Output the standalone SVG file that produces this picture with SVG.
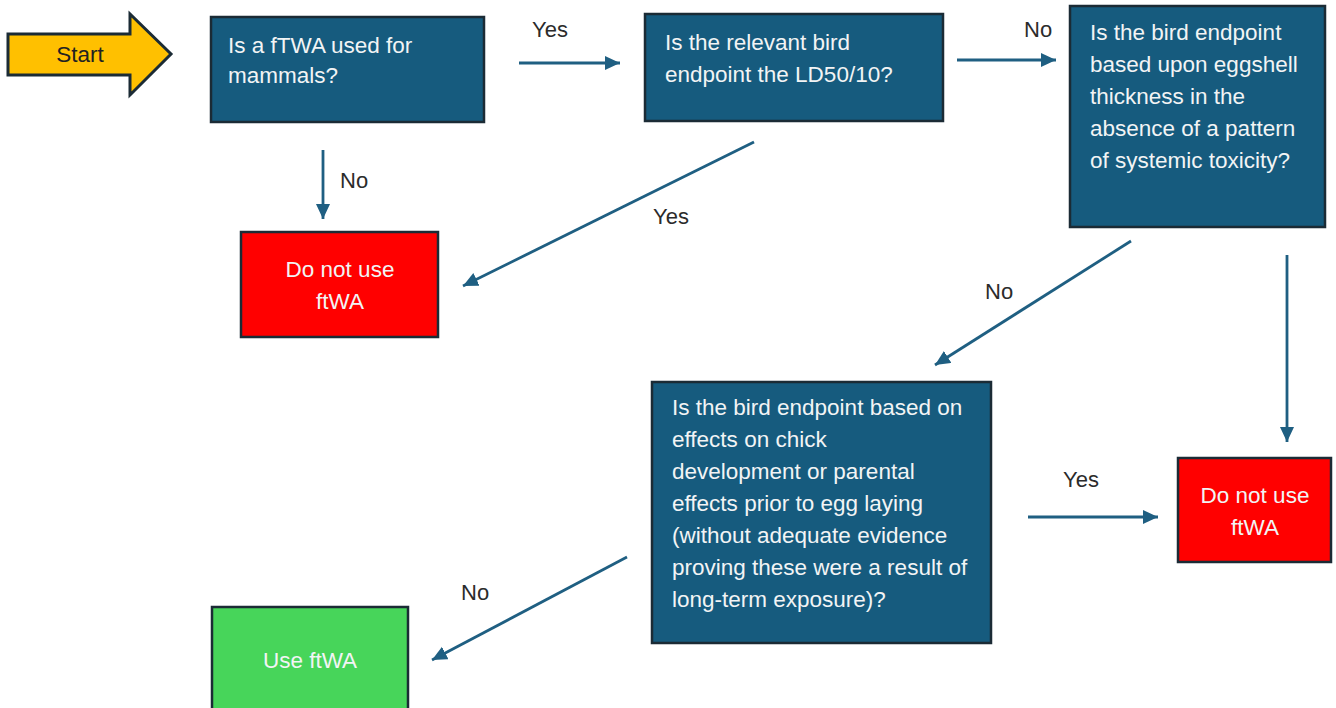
<svg xmlns="http://www.w3.org/2000/svg" width="1336" height="708" viewBox="0 0 1336 708">
<defs>
<style>
.q{fill:#165b7e;stroke:#1b2b35;stroke-width:2.5}
.red{fill:#ff0000;stroke:#1b2b35;stroke-width:2.5}
.grn{fill:#47d55a;stroke:#1b2b35;stroke-width:2.5}
.t{font-family:"Liberation Sans",Arial,sans-serif;font-size:22.5px;fill:#f2f4f5}
.c{text-anchor:middle}
.lbl{font-family:"Liberation Sans",Arial,sans-serif;font-size:22px;fill:#2b2b2b}
.cn{stroke:#1f5f82;stroke-width:2.8;fill:none;marker-end:url(#ah)}
</style>
<marker id="ah" markerUnits="userSpaceOnUse" markerWidth="18" markerHeight="16" refX="15" refY="7" orient="auto">
<path d="M0,0 L15,7 L0,14 Z" fill="#1f5f82"/>
</marker>
</defs>
<rect width="1336" height="708" fill="#ffffff"/>

<g id="start">
<polygon points="8,34 130,34 130,14 171,54 130,95 130,75 8,75" fill="#ffc000" stroke="#1b2b35" stroke-width="3"/>
<text x="80" y="62" class="lbl c" style="font-size:22.5px;fill:#222">Start</text>
</g>

<g id="q1">
<rect x="211" y="17" width="273" height="105" class="q"/>
<text class="t"><tspan x="228" y="53">Is a fTWA used for</tspan><tspan x="228" y="83">mammals?</tspan></text>
</g>

<g id="q2">
<rect x="645" y="14" width="298" height="107" class="q"/>
<text class="t"><tspan x="665" y="50">Is the relevant bird</tspan><tspan x="665" y="82">endpoint the LD50/10?</tspan></text>
</g>

<g id="q3">
<rect x="1070" y="6" width="255" height="221" class="q"/>
<text class="t"><tspan x="1090" y="40">Is the bird endpoint</tspan><tspan x="1090" y="72">based upon eggshell</tspan><tspan x="1090" y="104">thickness in the</tspan><tspan x="1090" y="136">absence of a pattern</tspan><tspan x="1090" y="168">of systemic toxicity?</tspan></text>
</g>

<g id="stop1">
<rect x="241" y="232" width="197" height="105" class="red"/>
<text class="t c"><tspan x="340" y="277">Do not use</tspan><tspan x="340" y="309">ftWA</tspan></text>
</g>

<g id="q4">
<rect x="652" y="382" width="339" height="261" class="q"/>
<text class="t"><tspan x="672" y="415">Is the bird endpoint based on</tspan><tspan x="672" y="447">effects on chick</tspan><tspan x="672" y="479">development or parental</tspan><tspan x="672" y="511">effects prior to egg laying</tspan><tspan x="672" y="543">(without adequate evidence</tspan><tspan x="672" y="575">proving these were a result of</tspan><tspan x="672" y="607">long-term exposure)?</tspan></text>
</g>

<g id="stop2">
<rect x="1178" y="458" width="153" height="104" class="red"/>
<text class="t c"><tspan x="1255" y="503">Do not use</tspan><tspan x="1255" y="535">ftWA</tspan></text>
</g>

<g id="use">
<rect x="212" y="607" width="196" height="110" class="grn"/>
<text x="310" y="668" class="t c">Use ftWA</text>
</g>

<g id="connectors">
<line x1="519" y1="63" x2="620" y2="63" class="cn"/>
<line x1="957" y1="60" x2="1056" y2="60" class="cn"/>
<line x1="323" y1="150" x2="323" y2="219" class="cn"/>
<line x1="754" y1="142" x2="463" y2="286" class="cn"/>
<line x1="1131" y1="241" x2="935" y2="365" class="cn"/>
<line x1="1287" y1="255" x2="1287" y2="442" class="cn"/>
<line x1="1028" y1="517" x2="1158" y2="517" class="cn"/>
<line x1="627" y1="557" x2="432" y2="660" class="cn"/>
</g>

<g id="labels">
<text x="532" y="37" class="lbl">Yes</text>
<text x="1024" y="37" class="lbl">No</text>
<text x="340" y="188" class="lbl">No</text>
<text x="653" y="224" class="lbl">Yes</text>
<text x="985" y="299" class="lbl">No</text>
<text x="1063" y="487" class="lbl">Yes</text>
<text x="461" y="600" class="lbl">No</text>
</g>
</svg>
